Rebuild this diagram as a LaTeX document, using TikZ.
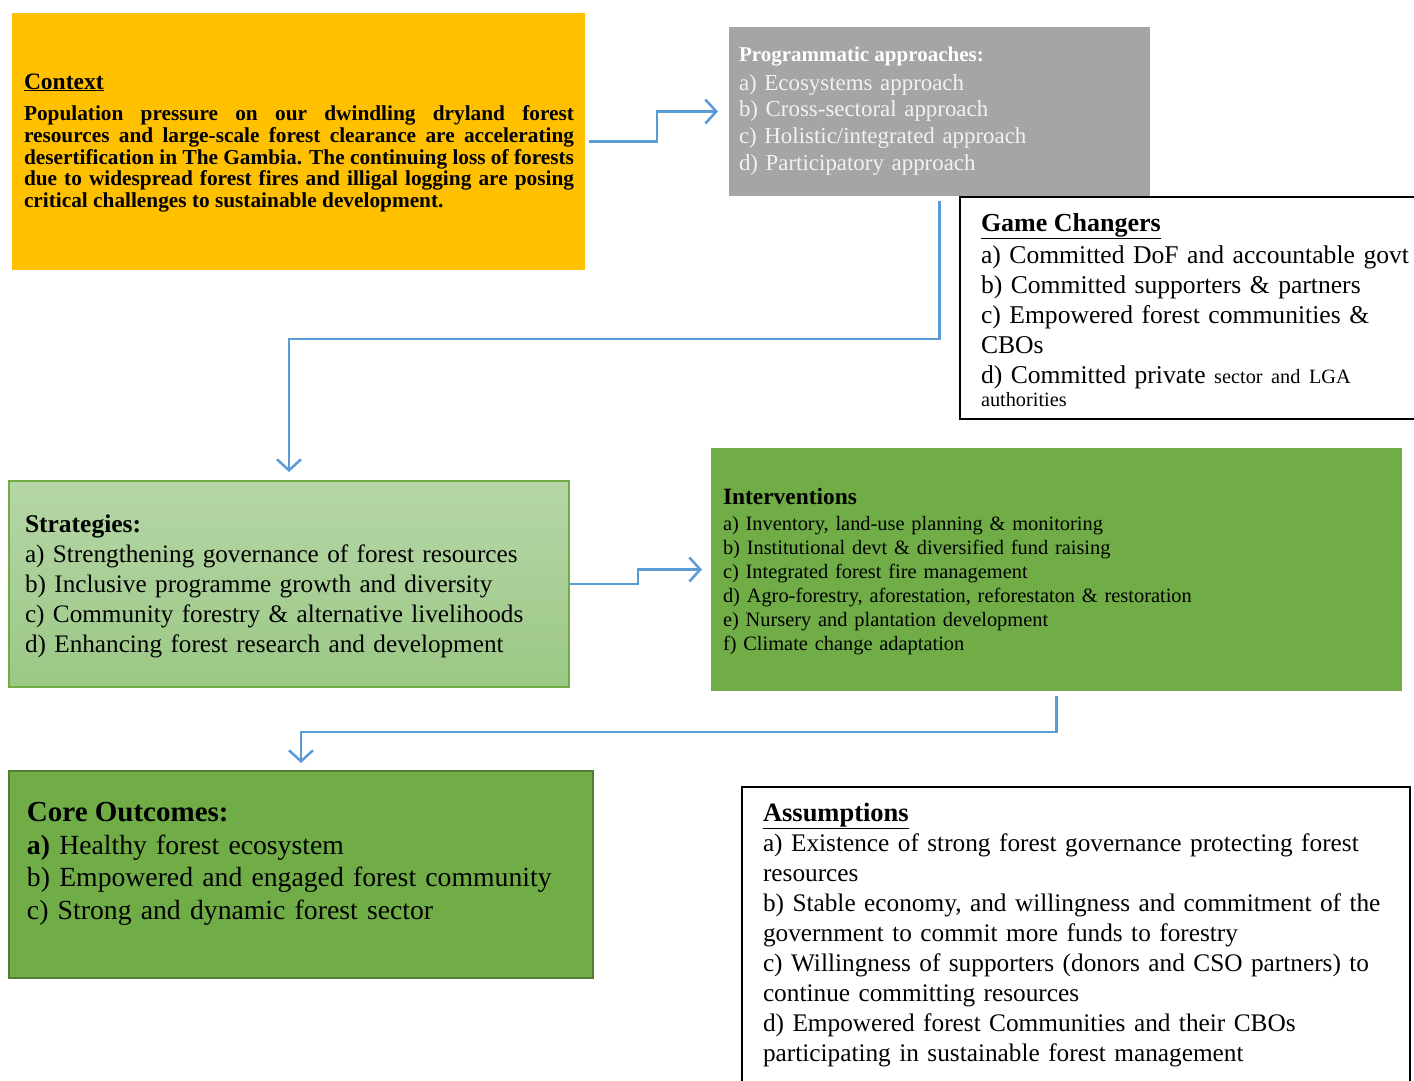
\documentclass[tikz,border=0pt]{standalone}
\usepackage{fontspec}
\setmainfont{Liberation Serif}
\usetikzlibrary{arrows.meta}
\definecolor{ctxfill}{HTML}{FFC000}
\definecolor{progfill}{HTML}{A5A5A5}
\definecolor{progtext}{HTML}{F2F2F2}
\definecolor{greenfill}{HTML}{70AD47}
\definecolor{greendark}{HTML}{507E32}
\definecolor{strattop}{HTML}{B5D6A7}
\definecolor{stratbot}{HTML}{9CC885}
\definecolor{flowblue}{HTML}{5B9BD5}
\tikzset{
  boxnode/.style={rectangle, anchor=north west, inner sep=0pt, outer sep=0pt},
  txt/.style={anchor=base west, inner sep=0pt, outer sep=0pt, align=left},
  flow/.style={draw=flowblue, line width=2.5pt,
    -{Straight Barb[length=11pt,width=24pt,line width=2.5pt]}},
}
\newcommand{\fs}[2]{\fontsize{#1pt}{#2pt}\selectfont}
\begin{document}
\begin{tikzpicture}[x=1pt,y=-1pt]
\useasboundingbox (0,0) rectangle (1414,1081);
\clip (0,0) rectangle (1414,1081);
\fill[white] (0,0) rectangle (1414,1081);

% boxes
\node[boxnode, fill=ctxfill, minimum width=573pt, minimum height=257pt] (ctx) at (12,13) {};
\node[boxnode, fill=progfill, minimum width=421pt, minimum height=169pt] (prog) at (729,27) {};
\node[boxnode, draw=black, line width=2pt, fill=white, minimum width=480pt, minimum height=222pt] (gc) at (960,197) {};
\node[boxnode, draw=greenfill, line width=2pt, top color=strattop, bottom color=stratbot, minimum width=560pt, minimum height=206pt] (strat) at (9,481) {};
\node[boxnode, fill=greenfill, minimum width=691pt, minimum height=243pt] (int) at (711,448) {};
\node[boxnode, fill=greenfill, draw=greendark, line width=2.5pt, minimum width=584pt, minimum height=207pt] (core) at (9,771) {};
\node[boxnode, draw=black, line width=2pt, fill=white, minimum width=668pt, minimum height=330pt] (assum) at (742,787) {};

% Context
\node[txt, font=\fs{23.5}{26}\bfseries] (ctxtitle) at (24,89) {\underline{Context}};
\node[txt, text width=550pt, align=justify, font=\fs{21.3}{22}\bfseries] (ctxbody) at (24,120) {%
Population pressure on our dwindling dryland forest\linebreak
resources and large-scale forest clearance are accelerating\linebreak
desertification in The Gambia. The continuing loss of forests\linebreak
due to widespread forest fires and illigal logging are posing\linebreak
critical challenges to sustainable development.};

% Programmatic approaches
\node[txt, text=white, font=\fs{21}{24}\bfseries] (progtitle) at (739,62) {Programmatic approaches:};
\node[txt, text=progtext, text width=400pt, font=\fs{22.9}{27}] (progbody) at (739,90) {%
a) Ecosystems approach\\
b) Cross-sectoral approach\\
c) Holistic/integrated approach\\
d) Participatory approach};

% Game Changers
\node[txt, font=\fs{26}{30}\bfseries] (gctitle) at (981,231) {\underline{Game Changers}};
\node[txt, text width=440pt, font=\fs{25.6}{30}] (gcbody) at (981,263) {%
a) Committed DoF and accountable govt\\
b) Committed supporters \& partners\\
c) Empowered forest communities \&\\
CBOs\\
d) Committed private {\fs{20.3}{30}sector and LGA}};
\node[txt, font=\fs{20.3}{24}] (gcauth) at (981,406) {authorities};

% Strategies
\node[txt, font=\fs{25.5}{30}\bfseries] (strattitle) at (25,532) {Strategies:};
\node[txt, text width=540pt, font=\fs{25.2}{30}] (stratbody) at (25,562) {%
a) Strengthening governance of forest resources\\
b) Inclusive programme growth and diversity\\
c) Community forestry \& alternative livelihoods\\
d) Enhancing forest research and development};

% Interventions
\node[txt, font=\fs{23.4}{26}\bfseries] (inttitle) at (723,504) {Interventions};
\node[txt, text width=670pt, font=\fs{20.4}{24}] (intbody) at (723,530) {%
a) Inventory, land-use planning \& monitoring\\
b) Institutional devt \& diversified fund raising\\
c) Integrated forest fire management\\
d) Agro-forestry, aforestation, reforestaton \& restoration\\
e) Nursery and plantation development\\
f) Climate change adaptation};

% Core Outcomes
\node[txt, font=\fs{29}{33}\bfseries] (coretitle) at (27,821) {Core Outcomes:};
\node[txt, text width=560pt, font=\fs{27.7}{32.5}] (corebody) at (27,854) {%
\textbf{a)} Healthy forest ecosystem\\
b) Empowered and engaged forest community\\
c) Strong and dynamic forest sector};

% Assumptions
\node[txt, font=\fs{26.5}{30}\bfseries] (assumtitle) at (763,821) {\underline{Assumptions}};
\node[txt, text width=645pt, font=\fs{25.3}{30}] (assumbody) at (763,851) {%
a) Existence of strong forest governance protecting forest\\
resources\\
b) Stable economy, and willingness and commitment of the\\
government to commit more funds to forestry\\
c) Willingness of supporters (donors and CSO partners) to\\
continue committing resources\\
d) Empowered forest Communities and their CBOs\\
participating in sustainable forest management};

% connectors
\draw[flow, shorten <=4pt, shorten >=11pt] (ctx.east) -- ++(72,0) |- (prog.west);
\draw[flow, shorten <=5pt, shorten >=9pt] (prog.south) -- ++(0,143) -| (strat.north);
\draw[flow, shorten >=9pt] (strat.east) -- ++(69,0) |- (int.west);
\draw[flow, shorten <=5pt, shorten >=8pt] (int.south) -- ++(0,41) -| (core.north);
\end{tikzpicture}
\end{document}
